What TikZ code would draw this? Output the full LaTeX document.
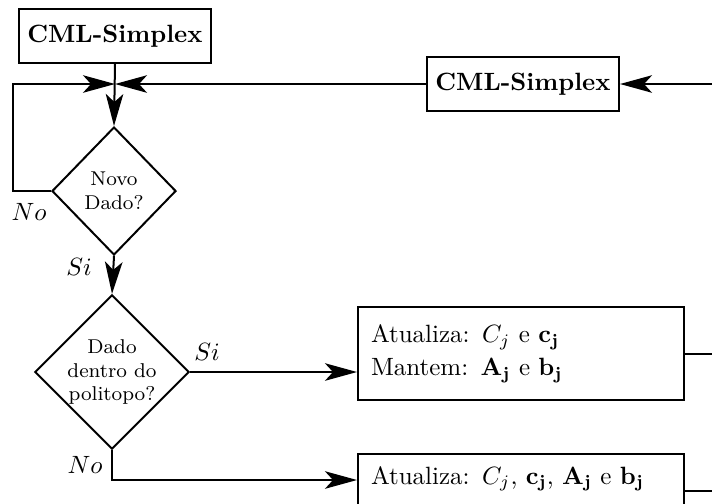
\documentclass[tikz,border=0pt]{standalone}
\usetikzlibrary{shapes.geometric,arrows.meta}
\begin{document}
\begin{tikzpicture}[x=0.4pt,y=-0.4pt,
  line width=0.8pt,
  arr/.style={-{Stealth[length=12.8pt,width=7pt,inset=3.2pt]}},
  box/.style={draw, rectangle, inner sep=0pt},
  tbox/.style={draw, rectangle, inner sep=5.2pt, minimum width=130.4pt, text width=120pt, align=left},
  dec/.style={draw, diamond, inner sep=0pt, font=\footnotesize, align=center},
  lab/.style={inner sep=0pt}
]
\useasboundingbox (0,0) rectangle (712,503);
\node[box, minimum width=76.8pt, minimum height=21.6pt, font=\bfseries] (top) at (115,36) {CML-Simplex};
\node[box, minimum width=76.8pt, minimum height=21.6pt, font=\bfseries] (rbox) at (523,84) {CML-Simplex};
\node[dec, minimum width=49.6pt, minimum height=51.2pt] (d1) at (114,191) {Novo\\Dado?};
\node[dec, minimum width=60pt, minimum height=60pt] (d2) at (112,372) {Dado\\dentro do\\politopo?};
\node[tbox, minimum height=37.2pt] (box1) at (521,353.5) {Atualiza: $C_j$ e $\mathbf{c_j}$\\[1.2pt] Mantem: $\mathbf{A_j}$ e $\mathbf{b_j}$};
\node[tbox, minimum height=27.2pt, text height=7pt, text depth=12.6pt] (box2) at (521,491) {Atualiza: $C_j$, $\mathbf{c_j}$, $\mathbf{A_j}$ e $\mathbf{b_j}$};
\coordinate (m) at (115,84);
\coordinate (rin) at (712,84);
\draw[arr] (top.south) -- (d1.north);
\draw[arr] (d1.west) -- ++(-38,0) |- (m);
\draw[arr] (rbox.west) -- (m);
\draw[arr] (rin) -- (rbox.east);
\draw[arr] (d1.south) -- (d2.north);
\draw[arr] (d2.east) -- (d2.east -| box1.west);
\draw[arr] (d2.south) |- ([yshift=4.4pt]box2.west);
\draw (box1.east) -- (box1.east -| rin);
\draw (box2.east) -- (box2.east -| rin);
\node[lab] (n1) at (29,212) {$No$};
\node[lab] (s1) at (79,267) {$Si$};
\node[lab] (s2) at (207,352) {$Si$};
\node[lab] (n2) at (85,465) {$No$};
\end{tikzpicture}
\end{document}
